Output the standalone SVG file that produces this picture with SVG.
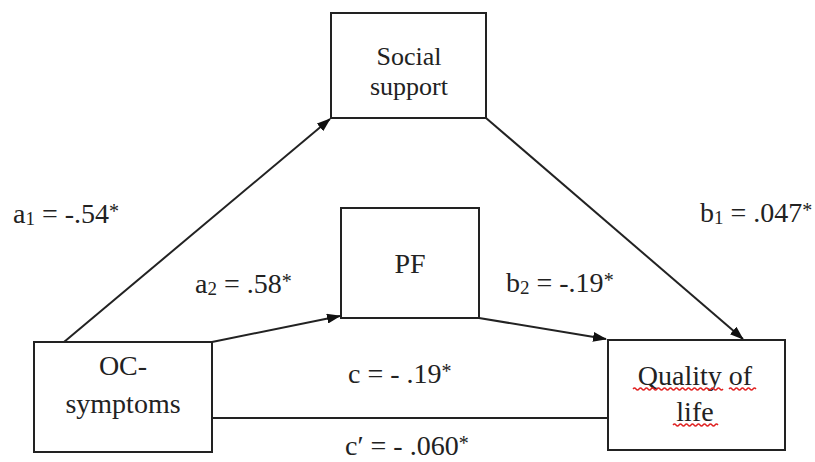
<svg xmlns="http://www.w3.org/2000/svg" width="815" height="462" viewBox="0 0 815 462">
<style>
.box{fill:#fff;stroke:#222;stroke-width:2}
.t{font-family:"Liberation Serif","Times New Roman",serif;font-size:28px;fill:#222;text-anchor:middle}
.s{font-size:26px}
.lb{font-family:"Liberation Serif","Times New Roman",serif;font-size:28px;fill:#222}
.sub{font-size:19px}
.sup{font-size:20px}
.edge{stroke:#222;stroke-width:2;fill:none}
.sq{stroke:#e02020;stroke-width:1.3;fill:none}
</style>
<defs>
<marker id="ah" viewBox="0 0 14 10" refX="13" refY="5" markerWidth="14" markerHeight="10" markerUnits="userSpaceOnUse" orient="auto">
<path d="M0,0 L14,5 L0,10 Z" fill="#111"/>
</marker>
</defs>
<g id="connectors">
<line class="edge" x1="64" y1="342" x2="330" y2="119" marker-end="url(#ah)"/>
<line class="edge" x1="486" y1="118" x2="743" y2="339" marker-end="url(#ah)"/>
<line class="edge" x1="212" y1="342" x2="340" y2="316" marker-end="url(#ah)"/>
<line class="edge" x1="479" y1="318" x2="606" y2="339" marker-end="url(#ah)"/>
<line class="edge" x1="212" y1="418" x2="608" y2="418"/>
</g>
<g id="labels">
<text class="lb" x="13" y="223">a<tspan class="sub" dy="2">1</tspan><tspan dy="-2"> = -.54</tspan><tspan class="sup" dy="-5">*</tspan></text>
<text class="lb" x="195" y="293">a<tspan class="sub" dy="2">2</tspan><tspan dy="-2"> = .58</tspan><tspan class="sup" dy="-5">*</tspan></text>
<text class="lb" x="700" y="222">b<tspan class="sub" dy="2">1</tspan><tspan dy="-2"> = .047</tspan><tspan class="sup" dy="-5">*</tspan></text>
<text class="lb" x="506" y="292">b<tspan class="sub" dy="2">2</tspan><tspan dy="-2"> = -.19</tspan><tspan class="sup" dy="-5">*</tspan></text>
<text class="lb" x="348" y="383">c = - .19<tspan class="sup" dy="-5">*</tspan></text>
<text class="lb" x="345" y="455">c′ = - .060<tspan class="sup" dy="-5">*</tspan></text>
</g>
<g id="social-support">
<rect class="box" x="331" y="13" width="155" height="105"/>
<text class="t s" x="409" y="65">Social</text>
<text class="t s" x="409" y="95">support</text>
</g>
<g id="pf">
<rect class="box" x="341" y="208" width="138" height="110"/>
<text class="t" x="410" y="273">PF</text>
</g>
<g id="oc-symptoms">
<rect class="box" x="34" y="342" width="178" height="110"/>
<text class="t" x="123" y="375">OC-</text>
<text class="t" x="123" y="413">symptoms</text>
</g>
<g id="quality-of-life">
<rect class="box" x="608" y="340" width="177" height="110"/>
<text class="t" x="695" y="385">Quality of</text>
<text class="t" x="695" y="421">life</text>
<path class="sq" d="M633,389 q1.5,-2 3,0 t3,0 t3,0 t3,0 t3,0 t3,0 t3,0 t3,0 t3,0 t3,0 t3,0 t3,0 t3,0 t3,0 t3,0 t3,0 t3,0 t3,0 t3,0 t3,0 t3,0 t3,0 t3,0 t3,0 t3,0 t3,0 t3,0 t3,0 t3,0 t3,0"/>
<path class="sq" d="M729,389 q1.5,-2 3,0 t3,0 t3,0 t3,0 t3,0 t3,0 t3,0 t3,0 t3,0"/>
<path class="sq" d="M673,425 q1.5,-2 3,0 t3,0 t3,0 t3,0 t3,0 t3,0 t3,0 t3,0 t3,0 t3,0 t3,0 t3,0 t3,0 t3,0 t3,0"/>
</g>
</svg>
